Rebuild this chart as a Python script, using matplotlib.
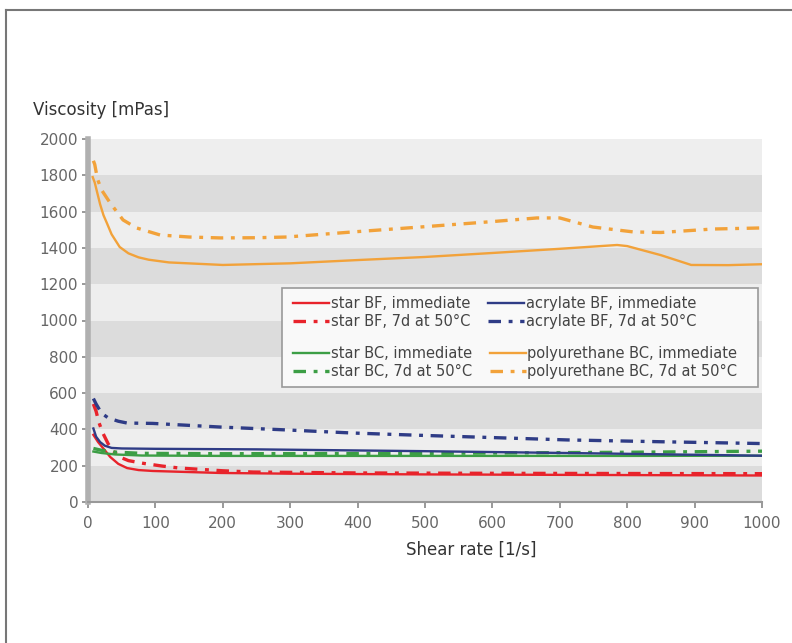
import matplotlib
matplotlib.use("Agg")
import matplotlib.pyplot as plt
from matplotlib.lines import Line2D
from matplotlib.patches import Rectangle

plt.rcParams['font.family'] = ['DejaVu Sans']
plt.rcParams['lines.scale_dashes'] = False

# ---- data ----
pu_imm_x = [7, 10, 13, 18, 23, 28, 35, 47, 60, 75, 90, 120, 200, 300, 400, 500, 600, 700, 785, 800, 850, 895, 950, 1000]
pu_imm_y = [1790, 1760, 1715, 1640, 1580, 1537, 1475, 1405, 1370, 1348, 1335, 1320, 1306, 1315, 1333, 1350, 1372, 1395, 1416, 1410, 1360, 1306, 1305, 1310]

pu_7d_x = [8, 10, 14, 20, 33, 52, 72, 107, 150, 196, 250, 295, 393, 493, 600, 666, 700, 749, 809, 850, 927, 1000]
pu_7d_y = [1880, 1860, 1780, 1720, 1647, 1554, 1510, 1471, 1460, 1455, 1456, 1460, 1488, 1515, 1545, 1565, 1565, 1515, 1488, 1485, 1504, 1510]

acr_7d_x = [8, 12, 20, 30, 45, 58, 96, 196, 295, 393, 488, 600, 711, 850, 1000]
acr_7d_y = [570, 540, 490, 463, 445, 435, 433, 413, 397, 380, 368, 355, 342, 332, 322]

acr_imm_x = [8, 12, 18, 25, 35, 50, 100, 250, 500, 750, 1000]
acr_imm_y = [405, 360, 330, 310, 298, 295, 293, 290, 280, 268, 255]

bc_imm_x = [8, 20, 40, 80, 200, 500, 800, 1000]
bc_imm_y = [278, 270, 262, 256, 254, 254, 254, 255]

bc_7d_x = [8, 20, 40, 80, 200, 500, 800, 1000]
bc_7d_y = [295, 285, 275, 268, 266, 268, 274, 280]

bf_imm_x = [8, 15, 25, 33, 45, 58, 75, 96, 150, 196, 300, 500, 750, 1000]
bf_imm_y = [370, 330, 285, 248, 210, 187, 176, 171, 165, 160, 156, 152, 149, 146]

bf_7d_x = [8, 12, 16, 22, 30, 38, 47, 60, 82, 110, 136, 200, 245, 400, 600, 800, 1000]
bf_7d_y = [540, 500, 440, 380, 320, 280, 248, 228, 213, 198, 187, 172, 165, 160, 158, 157, 156]

x_ticks = [0, 100, 200, 300, 400, 500, 600, 700, 800, 900, 1000]
y_ticks = [0, 200, 400, 600, 800, 1000, 1200, 1400, 1600, 1800, 2000]

labels_top = ["star BF, immediate", "star BF, 7d at 50°C",
              "acrylate BF, immediate", "acrylate BF, 7d at 50°C"]
labels_bot = ["star BC, immediate", "star BC, 7d at 50°C",
              "polyurethane BC, immediate", "polyurethane BC, 7d at 50°C"]

RED = "#e8232b"
BLUE = "#2f3c86"
GREEN = "#3c9e45"
ORANGE = "#f2a23a"
DASH = (0, (9, 5.5, 2.8, 5.5))

W, H = 792, 643
fig = plt.figure(figsize=(W / 100, H / 100), dpi=100)
L, R, T, B = 88, 762, 139, 502
ax = fig.add_axes([L / W, 1 - B / H, (R - L) / W, (B - T) / H])

# background bands
for i in range(10):
    col = "#dcdcdc" if i % 2 == 0 else "#eeeeee"
    ax.axhspan(i * 200, (i + 1) * 200, color=col, lw=0, zorder=0)

lw_s, lw_d = 1.7, 2.4
h_bf_imm, = ax.plot(bf_imm_x, bf_imm_y, color=RED, lw=lw_s, zorder=3)
h_bf_7d, = ax.plot(bf_7d_x, bf_7d_y, color=RED, lw=lw_d, ls=DASH, zorder=3)
h_bc_imm, = ax.plot(bc_imm_x, bc_imm_y, color=GREEN, lw=lw_s, zorder=3)
h_bc_7d, = ax.plot(bc_7d_x, bc_7d_y, color=GREEN, lw=lw_d, ls=DASH, zorder=3)
h_acr_imm, = ax.plot(acr_imm_x, acr_imm_y, color=BLUE, lw=lw_s, zorder=3)
h_acr_7d, = ax.plot(acr_7d_x, acr_7d_y, color=BLUE, lw=lw_d, ls=DASH, zorder=3)
h_pu_imm, = ax.plot(pu_imm_x, pu_imm_y, color=ORANGE, lw=lw_s, zorder=3)
h_pu_7d, = ax.plot(pu_7d_x, pu_7d_y, color=ORANGE, lw=lw_d, ls=DASH, zorder=3)

ax.set_xlim(0, 1000)
ax.set_ylim(0, 2000)
ax.set_xticks(x_ticks)
ax.set_yticks(y_ticks)
ax.tick_params(axis='both', labelsize=11, labelcolor="#666666", color="#888888",
               length=4, width=1.2, direction='out')
ax.tick_params(axis='x', pad=6)
ax.tick_params(axis='y', pad=3)
for s in ['top', 'right']:
    ax.spines[s].set_visible(False)
ax.spines['left'].set_color("#b0b0b0")
ax.spines['left'].set_linewidth(4)
ax.spines['bottom'].set_color("#999999")
ax.spines['bottom'].set_linewidth(1.5)

# axis titles
fig.text(33 / W, 1 - 110 / H, "Viscosity [mPas]", fontsize=12, color="#333333",
         ha='left', va='center')
fig.text(471 / W, 1 - 550 / H, "Shear rate [1/s]", fontsize=12, color="#333333",
         ha='center', va='center')

# legend frame
def ax_x(px):
    return (px - L) / (R - L)

def ax_y(py):
    return (B - py) / (B - T)

rect = Rectangle((ax_x(282), ax_y(387)), ax_x(758) - ax_x(282), ax_y(288) - ax_y(387),
                 transform=ax.transAxes, facecolor="#f9f9f9", edgecolor="#999999",
                 lw=1.2, zorder=5)
ax.add_patch(rect)

leg_kw = dict(ncol=2, frameon=False, fontsize=10.5, handlelength=2.5,
              handletextpad=0.1, columnspacing=1.2, labelspacing=0.2,
              borderpad=0, borderaxespad=0, loc='upper left')
leg1 = ax.legend([h_bf_imm, h_bf_7d, h_acr_imm, h_acr_7d], labels_top,
                 bbox_to_anchor=(ax_x(293), ax_y(296)), **leg_kw)
for t in leg1.get_texts():
    t.set_color("#444444")
leg1.set_zorder(6)
ax.add_artist(leg1)
leg2 = ax.legend([h_bc_imm, h_bc_7d, h_pu_imm, h_pu_7d], labels_bot,
                 bbox_to_anchor=(ax_x(293), ax_y(346)), **leg_kw)
for t in leg2.get_texts():
    t.set_color("#444444")
leg2.set_zorder(6)

# outer frame lines (top and left)
fig.add_artist(Line2D([6 / W, 1], [1 - 10 / H, 1 - 10 / H], color="#777777", lw=1.5,
                      transform=fig.transFigure))
fig.add_artist(Line2D([6 / W, 6 / W], [0, 1 - 10 / H], color="#777777", lw=1.5,
                      transform=fig.transFigure))

fig.savefig("out.png", dpi=100)
